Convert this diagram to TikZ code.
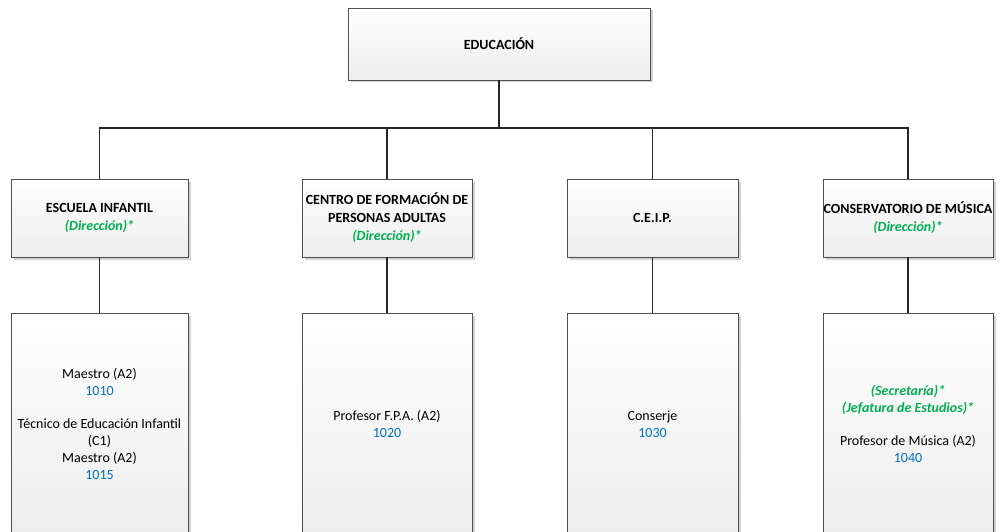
\documentclass[tikz,border=0pt]{standalone}
\usepackage{fontspec}
\setmainfont{Carlito}
\usetikzlibrary{shadows}
\definecolor{dirgreen}{HTML}{00B050}
\definecolor{codeblue}{HTML}{0070C0}
\definecolor{boxline}{HTML}{505050}
\tikzset{
  orgbox/.style={draw=boxline, line width=0.9pt, top color=white, bottom color=black!7,
    inner sep=0pt, drop shadow={shadow xshift=2.5pt, shadow yshift=-2.5pt, fill=black!35, opacity=0.5}},
  headtxt/.style={align=center, inner sep=0pt, font=\fontsize{14}{18}\selectfont\bfseries},
  bodytxt/.style={align=center, inner sep=0pt, font=\fontsize{14}{17}\selectfont},
  conn/.style={draw=black!85, line width=1.1pt},
}
\newcommand{\dirtxt}[1]{\textcolor{dirgreen}{\bfseries\itshape #1}}
\newcommand{\codetxt}[1]{\textcolor{codeblue}{#1}}
\begin{document}
\begin{tikzpicture}[x=1pt,y=1pt]
\useasboundingbox (0,0) rectangle (1000,531);
\clip (0,0) rectangle (1000,531);
\fill[white] (0,0) rectangle (1000,531);
% boxes
\node[orgbox, minimum width=302pt, minimum height=72pt] (top) at (499,487) {};
\node[orgbox, minimum width=177pt, minimum height=78pt] (h1) at (99.5,313) {};
\node[orgbox, minimum width=170pt, minimum height=78pt] (h2) at (387,313) {};
\node[orgbox, minimum width=171pt, minimum height=78pt] (h3) at (652.5,313) {};
\node[orgbox, minimum width=170pt, minimum height=78pt] (h4) at (908,313) {};
\node[orgbox, minimum width=177pt, minimum height=222pt] (b1) at (99.5,107) {};
\node[orgbox, minimum width=170pt, minimum height=222pt] (b2) at (387,107) {};
\node[orgbox, minimum width=171pt, minimum height=222pt] (b3) at (652.5,107) {};
\node[orgbox, minimum width=170pt, minimum height=222pt] (b4) at (908,107) {};
% connectors
\coordinate (bus) at (499,403);
\draw[conn] (top.south) -- (bus);
\draw[conn] (h1.north) |- (bus) -| (h4.north);
\draw[conn] (h2.north) -- (h2.north |- bus);
\draw[conn] (h3.north) -- (h3.north |- bus);
\draw[conn] (h1.south) -- (b1.north);
\draw[conn] (h2.south) -- (b2.north);
\draw[conn] (h3.south) -- (b3.north);
\draw[conn] (h4.south) -- (b4.north);
% texts
\node[headtxt] (ttop) at (top.center) {EDUCACIÓN};
\node[headtxt] (th1) at (h1.center) {ESCUELA INFANTIL\\\dirtxt{(Dirección)*}};
\node[headtxt] (th2) at (h2.center) {CENTRO DE FORMACIÓN DE\\PERSONAS ADULTAS\\\dirtxt{(Dirección)*}};
\node[headtxt] (th3) at (h3.center) {C.E.I.P.};
\node[headtxt] (th4) at (h4.center) {CONSERVATORIO DE MÚSICA\\\dirtxt{(Dirección)*}};
\node[bodytxt] (tb1) at (b1.center) {Maestro (A2)\\\codetxt{1010}\\[16pt]Técnico de Educación Infantil\\(C1)\\Maestro (A2)\\\codetxt{1015}};
\node[bodytxt] (tb2) at (b2.center) {Profesor F.P.A. (A2)\\\codetxt{1020}};
\node[bodytxt] (tb3) at (b3.center) {Conserje\\\codetxt{1030}};
\node[bodytxt] (tb4) at (b4.center) {\dirtxt{(Secretaría)*}\\\dirtxt{(Jefatura de Estudios)*}\\[16pt]Profesor de Música (A2)\\\codetxt{1040}};
\end{tikzpicture}
\end{document}
